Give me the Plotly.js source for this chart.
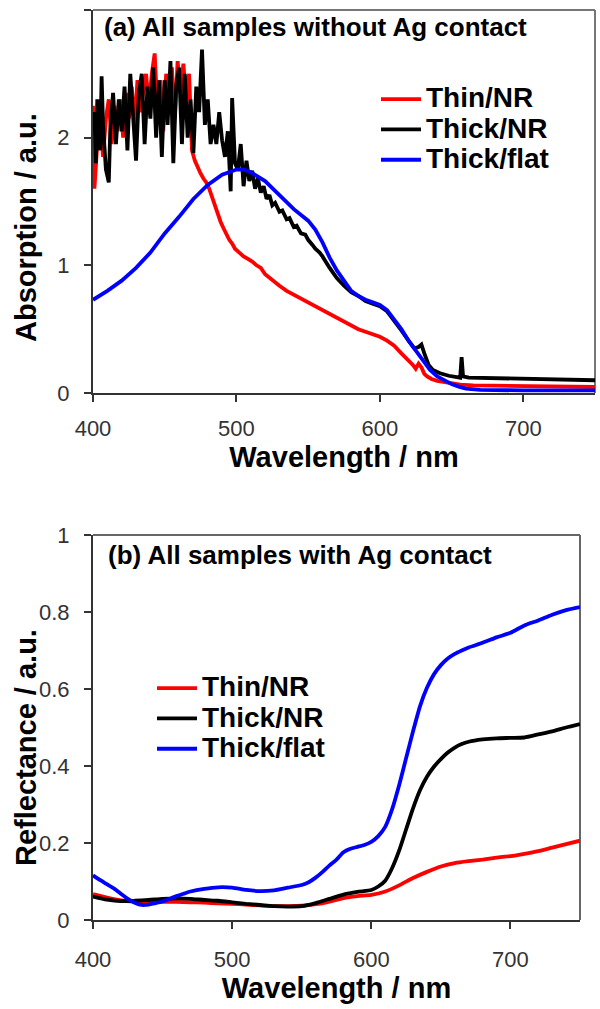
<!DOCTYPE html>
<html>
<head>
<meta charset="utf-8">
<script src="https://cdn.plot.ly/plotly-3.0.1.min.js"></script>
<style>html,body{margin:0;padding:0;background:#fff;}#chart{width:600px;height:1009px;}</style>
</head>
<body>
<div id="chart"></div>
<script>
// ---------- Panel (a): absorption, samples without Ag contact ----------
const wlThinA = [400,401,403,405,407,409,411,413,415,417,419,421,423,425,427,429,431,433,435,437,439,441,443,445,447,449,451,453,455,457,459,461,463,465,467,469,471,473,475,477,479,481,483,485,487,489,491,493,495,497,499,502,505,508,511,514,517,520,525,530,535,540,545,550,555,560,565,570,575,580,585,590,595,600,605,610,615,620,623,625,627,629,631,633,636,640,645,650,656,665,680,700,720,740,750];
const absThin = [2.25,1.6,1.95,2.2,1.85,2.15,2.3,1.95,2.25,2.05,2.3,2.0,2.35,2.15,2.4,2.1,2.45,2.2,2.35,2.5,2.25,2.5,2.66,2.2,2.45,2.05,2.5,2.3,2.55,2.15,2.6,2.35,2.58,2.3,2.5,1.9,1.82,1.76,1.72,1.68,1.65,1.6,1.53,1.46,1.4,1.34,1.29,1.24,1.2,1.17,1.13,1.1,1.07,1.05,1.03,1.0,0.98,0.93,0.88,0.84,0.8,0.77,0.74,0.71,0.68,0.65,0.62,0.59,0.56,0.53,0.5,0.48,0.46,0.44,0.41,0.37,0.31,0.26,0.22,0.19,0.23,0.2,0.15,0.13,0.11,0.095,0.085,0.075,0.065,0.06,0.057,0.053,0.05,0.048,0.047];

const wlThickA = [400,401,402,403,405,406,407,409,411,412,414,416,418,420,422,424,426,428,430,432,434,436,438,440,442,444,446,448,450,452,454,456,458,460,462,464,466,468,470,472,474,476,478,480,482,484,486,488,490,492,494,496,497,499,501,503,505,507,509,511,513,515,517,519,521,523,525,527,530,532,535,537,540,542,545,548,550,553,555,558,560,565,570,575,580,585,590,595,600,605,610,615,620,624,627,629,631,634,637,642,648,653,656,657,658,662,670,680,700,720,740,750];
const absThick = [2.05,2.2,1.8,2.3,1.9,2.48,2.1,1.75,1.65,2.05,2.35,1.95,2.3,2.05,2.4,1.9,2.5,2.15,1.82,2.35,2.5,1.95,2.4,2.15,2.55,2.0,2.45,1.85,2.45,2.1,2.6,1.8,2.4,2.55,1.95,2.5,2.0,2.3,1.88,2.4,2.2,2.69,2.1,2.3,1.95,2.1,1.95,2.2,1.98,1.85,2.05,1.58,2.31,1.8,1.75,1.95,1.62,1.82,1.66,1.74,1.6,1.68,1.57,1.62,1.52,1.55,1.47,1.49,1.42,1.43,1.36,1.37,1.3,1.31,1.25,1.24,1.2,1.16,1.13,1.1,1.07,0.98,0.9,0.84,0.79,0.76,0.72,0.7,0.68,0.64,0.57,0.49,0.41,0.35,0.36,0.38,0.31,0.22,0.18,0.155,0.135,0.125,0.12,0.28,0.13,0.12,0.118,0.115,0.11,0.105,0.1,0.1];

const wlFlatA = [400,410,420,430,440,450,460,470,480,490,500,505,510,520,530,540,550,555,560,565,570,575,580,585,590,595,600,605,610,615,620,625,630,635,640,645,650,655,660,670,700,750];
const absFlat = [0.73,0.8,0.88,0.98,1.1,1.25,1.38,1.52,1.63,1.71,1.75,1.75,1.73,1.66,1.55,1.44,1.35,1.28,1.18,1.06,0.96,0.88,0.8,0.76,0.73,0.71,0.69,0.65,0.58,0.5,0.41,0.33,0.25,0.18,0.13,0.1,0.07,0.05,0.035,0.025,0.02,0.02];

// ---------- Panel (b): reflectance, samples with Ag contact ----------
const wlThinB = [400,410,420,430,440,450,460,470,480,490,500,510,520,530,540,550,560,570,580,590,600,610,620,630,640,650,660,670,680,690,700,710,720,730,740,750];
const refThin = [0.067,0.058,0.051,0.048,0.047,0.047,0.047,0.046,0.045,0.043,0.042,0.04,0.038,0.036,0.036,0.037,0.041,0.048,0.057,0.062,0.065,0.074,0.09,0.109,0.125,0.139,0.148,0.153,0.157,0.162,0.166,0.172,0.179,0.188,0.197,0.206];

const wlThickB = [400,410,420,430,440,450,460,470,480,490,500,510,520,530,540,550,560,570,580,590,600,605,610,615,620,625,630,635,640,645,650,655,660,665,670,680,690,700,710,720,730,740,750];
const refThick = [0.061,0.053,0.049,0.05,0.052,0.055,0.056,0.055,0.052,0.05,0.046,0.042,0.039,0.036,0.035,0.036,0.044,0.055,0.066,0.073,0.078,0.087,0.102,0.135,0.18,0.235,0.29,0.337,0.372,0.398,0.418,0.435,0.448,0.457,0.463,0.469,0.472,0.473,0.474,0.482,0.49,0.5,0.509];

const wlFlatB = [400,405,410,415,420,425,430,435,440,445,450,455,460,465,470,480,490,500,510,520,530,540,550,555,560,565,570,575,580,585,590,595,600,605,610,615,620,625,630,635,640,645,650,655,660,665,670,680,690,700,710,720,730,740,750];
const refFlat = [0.116,0.104,0.093,0.082,0.068,0.055,0.045,0.039,0.04,0.044,0.048,0.055,0.062,0.068,0.074,0.081,0.085,0.084,0.078,0.075,0.077,0.084,0.091,0.098,0.11,0.125,0.142,0.157,0.176,0.185,0.19,0.195,0.203,0.218,0.242,0.288,0.35,0.42,0.49,0.555,0.603,0.638,0.662,0.679,0.691,0.7,0.708,0.72,0.734,0.746,0.765,0.778,0.793,0.805,0.813];

const seriesNames = ['Thin/NR','Thick/NR','Thick/flat'];
const seriesColors = ['#ff0000','#000000','#0000ff'];
const xTicks = [400,500,600,700];
const yTicksA = [0,1,2,3];
const yTicksB = [0,0.2,0.4,0.6,0.8,1];
const panelTitles = ['(a) All samples without Ag contact','(b) All samples with Ag contact'];
const xTitle = 'Wavelength / nm';
const yTitles = ['Absorption / a.u.','Reflectance / a.u.'];

const FONT = 'Liberation Sans, Arial, sans-serif';
const legName = n => '<span style="font-size:28px">' + n + '</span>';

const topX = [wlThinA, wlThickA, wlFlatA], topY = [absThin, absThick, absFlat];
const botX = [wlThinB, wlThickB, wlFlatB], botY = [refThin, refThick, refFlat];

const traces = [];
for (let i = 0; i < 3; i++) {
  traces.push({x: topX[i], y: topY[i], type: 'scatter', mode: 'lines', name: legName(seriesNames[i]),
    xaxis: 'x', yaxis: 'y', legend: 'legend', line: {color: seriesColors[i], width: 3.8}});
}
for (let i = 0; i < 3; i++) {
  traces.push({x: botX[i], y: botY[i], type: 'scatter', mode: 'lines', name: legName(seriesNames[i]),
    xaxis: 'x2', yaxis: 'y2', legend: 'legend2', line: {color: seriesColors[i], width: 3.8, shape: 'spline', smoothing: 0.6}});
}

const H = 1009, W = 600;
const px = v => v / W, py = v => 1 - v / H;

const axisCommon = {
  showline: true, linecolor: '#333', linewidth: 2, ticks: 'outside', ticklen: 7, tickwidth: 2, tickcolor: '#333',
  showgrid: false, zeroline: false, tickfont: {family: FONT, size: 22, color: '#333'}, fixedrange: true
};
const titleFont = {family: FONT, size: 29, color: '#000', weight: 'bold'};

const layout = {
  width: W, height: H, margin: {l: 0, r: 0, t: 0, b: 0},
  paper_bgcolor: '#fff', plot_bgcolor: '#fff', font: {family: FONT, color: '#000'},
  xaxis: Object.assign({}, axisCommon, {domain: [px(93), px(595)], range: [400, 750], tickvals: xTicks, anchor: 'y',
    ticklabelstandoff: 8, title: {text: xTitle, font: titleFont, standoff: 5}}),
  yaxis: Object.assign({}, axisCommon, {domain: [py(393), py(10)], range: [0, 3], tickvals: yTicksA, anchor: 'x', ticklabelstandoff: 10}),
  xaxis2: Object.assign({}, axisCommon, {domain: [px(93), px(580)], range: [400, 750], tickvals: xTicks, anchor: 'y2',
    ticklabelstandoff: 12, title: {text: xTitle, font: titleFont, standoff: 5}}),
  yaxis2: Object.assign({}, axisCommon, {domain: [py(920), py(535)], range: [0, 1], tickvals: yTicksB, anchor: 'x2', ticklabelstandoff: 10}),
  legend: {x: px(376), y: py(79), xanchor: 'left', yanchor: 'top', bgcolor: 'rgba(0,0,0,0)', borderwidth: 0,
    font: {family: FONT, size: 21, color: '#000', weight: 'bold'}, itemwidth: 40, tracegroupgap: 0},
  legend2: {x: px(152), y: py(668), xanchor: 'left', yanchor: 'top', bgcolor: 'rgba(0,0,0,0)', borderwidth: 0,
    font: {family: FONT, size: 21, color: '#000', weight: 'bold'}, itemwidth: 40, tracegroupgap: 0},
  annotations: [
    {text: panelTitles[0], xref: 'paper', yref: 'paper', x: px(102), y: py(27), xanchor: 'left', yanchor: 'middle', showarrow: false,
     font: {family: FONT, size: 26, color: '#000', weight: 'bold'}},
    {text: panelTitles[1], xref: 'paper', yref: 'paper', x: px(106), y: py(555), xanchor: 'left', yanchor: 'middle', showarrow: false,
     font: {family: FONT, size: 26, color: '#000', weight: 'bold'}},
    {text: yTitles[0], xref: 'paper', yref: 'paper', x: px(26), y: py(228), textangle: -90, xanchor: 'center', yanchor: 'middle', showarrow: false,
     font: titleFont},
    {text: yTitles[1], xref: 'paper', yref: 'paper', x: px(26), y: py(748), textangle: -90, xanchor: 'center', yanchor: 'middle', showarrow: false,
     font: titleFont}
  ],
  shapes: [
    {type: 'line', xref: 'x domain', yref: 'y domain', x0: 0, x1: 1, y0: 1, y1: 1, line: {color: '#777', width: 2}, layer: 'below'},
    {type: 'line', xref: 'x domain', yref: 'y domain', x0: 1, x1: 1, y0: 0, y1: 1, line: {color: '#777', width: 2}, layer: 'below'},
    {type: 'line', xref: 'x2 domain', yref: 'y2 domain', x0: 0, x1: 1, y0: 1, y1: 1, line: {color: '#666', width: 2}, layer: 'below'},
    {type: 'line', xref: 'x2 domain', yref: 'y2 domain', x0: 1, x1: 1, y0: 0, y1: 1, line: {color: '#666', width: 2}, layer: 'below'}
  ],
  showlegend: true
};

Plotly.newPlot('chart', traces, layout, {staticPlot: true, displayModeBar: false});
</script>
</body>
</html>
